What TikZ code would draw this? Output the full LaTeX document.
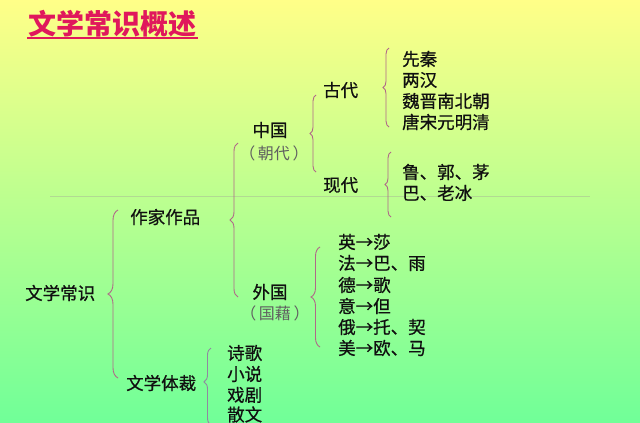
\documentclass[tikz,border=0pt]{standalone}
\usepackage{fontspec}
\setmainfont{Noto Sans CJK SC}
\newfontfamily\txtfont{Noto Sans CJK SC}[FakeBold=0.6]
\usetikzlibrary{decorations.pathreplacing}
\definecolor{bgtop}{HTML}{FFFF88}
\definecolor{bgmid}{HTML}{CCFF90}
\definecolor{bgbot}{HTML}{70FF98}
\definecolor{titlecol}{HTML}{E0185C}
\definecolor{bracecol}{HTML}{B06888}
\definecolor{bracecolb}{HTML}{9088A0}
\definecolor{txt}{HTML}{101010}
\definecolor{subtxt}{HTML}{606060}
\definecolor{rulecol}{HTML}{B2DA92}
\tikzset{
  lbl/.style={inner sep=0pt, anchor=west, text=txt, font=\txtfont\fontsize{17.5}{21}\selectfont},
  clbl/.style={inner sep=0pt, anchor=center, text=txt, font=\txtfont\fontsize{17.5}{21}\selectfont},
  sublbl/.style={inner sep=0pt, anchor=center, text=subtxt, font=\fontsize{16}{20}\selectfont},
  brc/.style={draw=bracecol, line width=0.9pt, decorate, decoration={brace, amplitude=#1}},
  brc/.default=7pt
}
\begin{document}
\begin{tikzpicture}[x=1pt,y=-1pt]
\useasboundingbox (0,0) rectangle (640,423);
\shade[top color=bgtop, middle color=bgmid, bottom color=bgbot] (0,0) rectangle (640,423);
% faint horizontal rule
\coordinate (rl) at (50,196);
\coordinate (rr) at (590,196);
\draw[rulecol, line width=0.7pt] (rl) -- (rr);
% title
\node[inner sep=0pt, text=titlecol, font=\fontsize{28}{32}\selectfont\bfseries] (title) at (112.5,24) {文学常识概述};
\coordinate (ul) at (27,38);
\coordinate (ur) at (198,38);
\draw[titlecol, line width=2.2pt] (ul) -- (ur);
% level 0
\node[lbl] (root) at (25,293) {文学常识};
% level 1
\node[lbl] (zj) at (130,217) {作家作品};
\node[lbl] (tc) at (126,383) {文学体裁};
% level 2
\node[clbl] (zg) at (270,130) {中国};
\node[sublbl] (zgs) at (274,153) {（\,朝代\,）};
\node[clbl] (wg) at (270,292) {外国};
\node[sublbl] (wgs) at (275,313) {（\,国藉\,）};
% level 3
\node[lbl] (gd) at (323,90) {古代};
\node[lbl] (xd) at (323,185) {现代};
% ancient items
\node[lbl] (a1) at (402,59) {先秦};
\node[lbl] (a2) at (402,80) {两汉};
\node[lbl] (a3) at (402,101) {魏晋南北朝};
\node[lbl] (a4) at (402,122) {唐宋元明清};
% modern items
\node[lbl] (m1) at (402,172) {鲁、郭、茅};
\node[lbl] (m2) at (402,193) {巴、老冰};
% foreign items
\node[lbl] (f1) at (338,242) {英→莎};
\node[lbl] (f2) at (338,263) {法→巴、雨};
\node[lbl] (f3) at (338,285) {德→歌};
\node[lbl] (f4) at (338,306) {意→但};
\node[lbl] (f5) at (338,327) {俄→托、契};
\node[lbl] (f6) at (338,348) {美→欧、马};
% genres
\node[lbl] (g1) at (227,353) {诗歌};
\node[lbl] (g2) at (227,374) {小说};
\node[lbl] (g3) at (227,395) {戏剧};
\node[lbl] (g4) at (227,414.5) {散文};
% braces (drawn bottom to top so the tip points left)
\coordinate (b1b) at (118,378); \coordinate (b1t) at (118,210);
\draw[brc=10pt] (b1b) -- (b1t);
\coordinate (b2b) at (238,297); \coordinate (b2t) at (238,143);
\draw[brc=8pt] (b2b) -- (b2t);
\coordinate (b3b) at (316,172); \coordinate (b3t) at (316,95);
\draw[brc=6pt] (b3b) -- (b3t);
\coordinate (b4b) at (389,127); \coordinate (b4t) at (389,48);
\draw[brc=6pt] (b4b) -- (b4t);
\coordinate (b5b) at (391,217); \coordinate (b5t) at (391,152);
\draw[brc=6pt] (b5b) -- (b5t);
\coordinate (b6b) at (320,347); \coordinate (b6t) at (320,247);
\draw[brc=9pt] (b6b) -- (b6t);
\coordinate (b7b) at (211,425); \coordinate (b7t) at (211,348);
\draw[draw=bracecolb, line width=0.9pt, decorate, decoration={brace, amplitude=7pt, aspect=0.56}] (b7b) -- (b7t);
\end{tikzpicture}
\end{document}
